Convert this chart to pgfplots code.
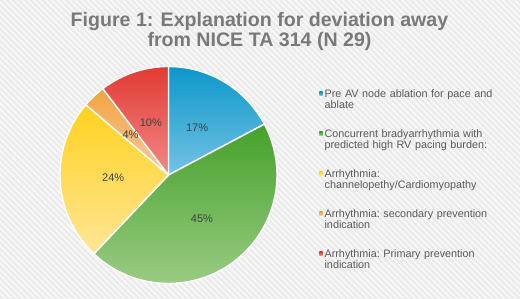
\documentclass[border=0pt]{standalone}
\usepackage{pgfplots}
\pgfplotsset{compat=1.18}
\usepackage{fontspec}
\setmainfont{Liberation Sans}
\usetikzlibrary{patterns.meta}
\definecolor{bg}{HTML}{EBEBEB}
\definecolor{titlegray}{HTML}{797979}
\definecolor{legendgray}{HTML}{5A5A5A}
\definecolor{pctgray}{HTML}{404040}
\definecolor{blueT}{HTML}{0C97CB}
\definecolor{blueB}{HTML}{74C3E2}
\definecolor{greenT}{HTML}{44A12A}
\definecolor{greenB}{HTML}{9ACB83}
\definecolor{yellowT}{HTML}{FFD21E}
\definecolor{yellowB}{HTML}{FFE697}
\definecolor{orangeT}{HTML}{F4A340}
\definecolor{orangeB}{HTML}{F8CA9E}
\definecolor{redT}{HTML}{E23A33}
\definecolor{redB}{HTML}{F28A88}
% counts per category (N = 29)
\def\nA{5}  % Pre AV node ablation
\def\nB{13} % Concurrent bradyarrhythmia
\def\nC{7}  % channelopathy/cardiomyopathy
\def\nD{1}  % secondary prevention
\def\nE{3}  % primary prevention
\def\tot{29}
\tikzset{slice/.style={draw=white, line width=1.4pt, line join=round},
  pct/.style={font=\fontsize{11}{13}\selectfont, text=pctgray, anchor=center}}
\begin{document}
\begin{tikzpicture}[x=1pt,y=1pt]
\fill[bg] (0,0) rectangle (520,299);
\fill[pattern={Lines[angle=-45,distance=4.2pt,line width=1.6pt]}, pattern color=white!70!bg] (0,0) rectangle (520,299);
\path[use as bounding box] (0,0) rectangle (520,299);
\node[anchor=base, inner sep=0pt, text=titlegray, font=\fontsize{19.6}{20}\selectfont\bfseries] at (259.5,272.3) {Figure 1: Explanation for deviation away};
\node[anchor=base, inner sep=0pt, text=titlegray, font=\fontsize{19.6}{20}\selectfont\bfseries] at (259.5,252.3) {from NICE TA 314 (N 29)};
\begin{axis}[at={(168.5pt,124pt)}, anchor=center, scale only axis,
  width=217pt, height=217pt, xmin=-1, xmax=1, ymin=-1, ymax=1,
  hide axis, clip=false, samples=80,
  legend cell align=left,
  legend style={draw=none, fill=none, at={(1.194,0.896)}, anchor=north west,
    inner sep=0pt, row sep=18pt, column sep=2pt,
    font=\fontsize{10.8}{11.5}\selectfont\frenchspacing, text=legendgray,
    nodes={inner sep=0pt, text width=192pt, align=left, text height=8pt, text depth=14pt},
    cells={anchor=base west}},
  legend image code/.code={\fill[#1,draw=none] (0pt,2pt) rectangle (3.3pt,5.3pt);}]
\addplot[slice, top color=blueT, bottom color=blueB, domain={90-360*\nA/\tot}:90]
  ({cos(x)},{sin(x)}) -- (axis cs:0,0) -- cycle;
\addlegendentry{Pre AV node ablation for pace and\\ablate}
\addplot[slice, top color=greenT, bottom color=greenB, domain={90-360*(\nA+\nB)/\tot}:{90-360*\nA/\tot}]
  ({cos(x)},{sin(x)}) -- (axis cs:0,0) -- cycle;
\addlegendentry{Concurrent bradyarrhythmia with\\predicted high RV pacing burden:}
\addplot[slice, top color=yellowT, bottom color=yellowB, domain={90-360*(\nA+\nB+\nC)/\tot}:{90-360*(\nA+\nB)/\tot}]
  ({cos(x)},{sin(x)}) -- (axis cs:0,0) -- cycle;
\addlegendentry{Arrhythmia:\\channelopethy/Cardiomyopathy}
\addplot[slice, top color=orangeT, bottom color=orangeB, domain={90-360*(\nA+\nB+\nC+\nD)/\tot}:{90-360*(\nA+\nB+\nC)/\tot}]
  ({cos(x)},{sin(x)}) -- (axis cs:0,0) -- cycle;
\addlegendentry{Arrhythmia: secondary prevention\\indication}
\addplot[slice, top color=redT, bottom color=redB, domain=-270:{90-360*(\nA+\nB+\nC+\nD)/\tot}]
  ({cos(x)},{sin(x)}) -- (axis cs:0,0) -- cycle;
\addlegendentry{Arrhythmia: Primary prevention\\indication}
\node[pct] at (axis cs:{0.51*cos(90-360*2.5/29)},{0.51*sin(90-360*2.5/29)}) {17\%};
\node[pct] at (axis cs:{0.51*cos(90-360*11.5/29)},{0.51*sin(90-360*11.5/29)}) {45\%};
\node[pct] at (axis cs:{0.51*cos(90-360*21.5/29)},{0.51*sin(90-360*21.5/29)}) {24\%};
\node[pct] at (axis cs:{0.51*cos(90-360*25.5/29)},{0.51*sin(90-360*25.5/29)}) {4\%};
\node[pct] at (axis cs:{0.51*cos(90-360*27.5/29)},{0.51*sin(90-360*27.5/29)}) {10\%};
\end{axis}
\end{tikzpicture}
\end{document}
